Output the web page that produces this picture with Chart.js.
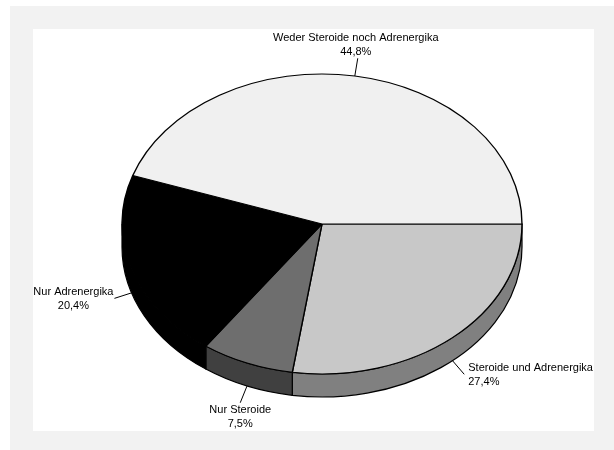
<!DOCTYPE html>
<html lang="de">
<head>
<meta charset="utf-8">
<title>Medikation</title>
<script src="https://cdn.jsdelivr.net/npm/chart.js@4.4.1/dist/chart.umd.min.js"></script>
<style>
  html, body { margin: 0; padding: 0; background: #fff; }
  #wrap { position: relative; width: 614px; height: 450px; }
</style>
</head>
<body>
<div id="wrap"><canvas id="pie" width="614" height="450"></canvas></div>
<script>
// slices run clockwise from 3 o'clock
const categories = [
  'Steroide und Adrenergika',
  'Nur Steroide',
  'Nur Adrenergika',
  'Weder Steroide noch Adrenergika'
];
const shares = [27.4, 7.5, 20.4, 44.8];

const topColors = ['#c8c8c8', '#6e6e6e', '#000000', '#f0f0f0'];
const sideColors = ['#808080', '#404040', '#000000', '#c0c0c0'];

const TILT = 0.75;   // vertical squash of the disc
const DEPTH = 23;    // thickness of the disc edge
const LEADER = 18;   // leader line length
const LINE_H = 14;

const fmt = v => v.toFixed(1).replace('.', ',') + '%';

function arcProps(el) {
  return el.getProps(['x', 'y', 'startAngle', 'endAngle', 'outerRadius'], true);
}

const pie3d = {
  id: 'pie3d',
  beforeDraw(chart) {
    const ctx = chart.ctx;
    ctx.save();
    ctx.fillStyle = '#ffffff';
    ctx.fillRect(0, 0, chart.width, chart.height);
    ctx.fillStyle = '#f2f2f2';
    ctx.fillRect(10, 6, chart.width - 10, chart.height - 6);
    ctx.fillStyle = '#ffffff';
    ctx.fillRect(33, 29, 561, 402);
    ctx.restore();
  },
  beforeDatasetsDraw(chart) {
    const ctx = chart.ctx;
    const arcs = chart.getDatasetMeta(0).data;
    // front edge of the disc, only the part facing the viewer
    ctx.save();
    ctx.lineWidth = 1.2;
    ctx.strokeStyle = '#000';
    ctx.lineJoin = 'round';
    arcs.forEach((el, i) => {
      const p = arcProps(el);
      const a = Math.max(p.startAngle, 0);
      const b = Math.min(p.endAngle, Math.PI);
      if (b <= a) return;
      const rx = p.outerRadius, ry = p.outerRadius * TILT;
      ctx.beginPath();
      ctx.ellipse(p.x, p.y, rx, ry, 0, a, b);
      ctx.ellipse(p.x, p.y + DEPTH, rx, ry, 0, b, a, true);
      ctx.closePath();
      ctx.fillStyle = sideColors[i];
      ctx.fill();
      ctx.stroke();
    });
    ctx.restore();
    // squash the top face that the controller draws next
    const c = arcProps(arcs[0]);
    ctx.save();
    ctx.translate(c.x, c.y);
    ctx.scale(1, TILT);
    ctx.translate(-c.x, -c.y);
  },
  afterDatasetsDraw(chart) {
    const ctx = chart.ctx;
    ctx.restore();
    const arcs = chart.getDatasetMeta(0).data;
    ctx.save();
    ctx.font = '11px "Liberation Sans", Arial, sans-serif';
    ctx.fillStyle = '#000';
    ctx.strokeStyle = '#000';
    ctx.lineWidth = 1;
    ctx.textBaseline = 'middle';
    arcs.forEach((el, i) => {
      const p = arcProps(el);
      const mid = (p.startAngle + p.endAngle) / 2;
      const cos = Math.cos(mid), sin = Math.sin(mid);
      const rx = p.outerRadius, ry = p.outerRadius * TILT;
      const sx = p.x + rx * cos;
      const sy = p.y + ry * sin + (sin > 0 ? DEPTH : 0);
      const ex = sx + LEADER * cos;
      const ey = sy + LEADER * sin;
      ctx.beginPath();
      ctx.moveTo(sx, sy);
      ctx.lineTo(ex, ey);
      ctx.stroke();

      const lines = [categories[i], fmt(shares[i])];
      const w = Math.max(...lines.map(t => ctx.measureText(t).width));
      let cx, y0;
      if (cos > 0.5) {
        ctx.textAlign = 'left';
        cx = ex + 4;
        y0 = ey + 1 - LINE_H / 2;
      } else if (cos < -0.5) {
        ctx.textAlign = 'center';
        cx = ex - 1 - w / 2;
        y0 = ey + 1 - LINE_H / 2;
      } else if (sin < 0) {
        ctx.textAlign = 'center';
        cx = ex - 2;
        y0 = ey - 6 - LINE_H;
      } else {
        ctx.textAlign = 'center';
        cx = ex;
        y0 = ey + 7;
      }
      lines.forEach((t, k) => ctx.fillText(t, cx, y0 + k * LINE_H));
    });
    ctx.restore();
  }
};

new Chart(document.getElementById('pie'), {
  type: 'pie',
  data: {
    labels: categories,
    datasets: [{
      data: shares,
      backgroundColor: topColors,
      borderColor: '#000',
      borderWidth: 1.4,
      radius: 200
    }]
  },
  options: {
    responsive: false,
    animation: false,
    events: [],
    rotation: 90,
    layout: { padding: { left: 121, right: 91, top: 23, bottom: 25 } },
    plugins: {
      legend: { display: false },
      tooltip: { enabled: false }
    }
  },
  plugins: [pie3d]
});
</script>
</body>
</html>
